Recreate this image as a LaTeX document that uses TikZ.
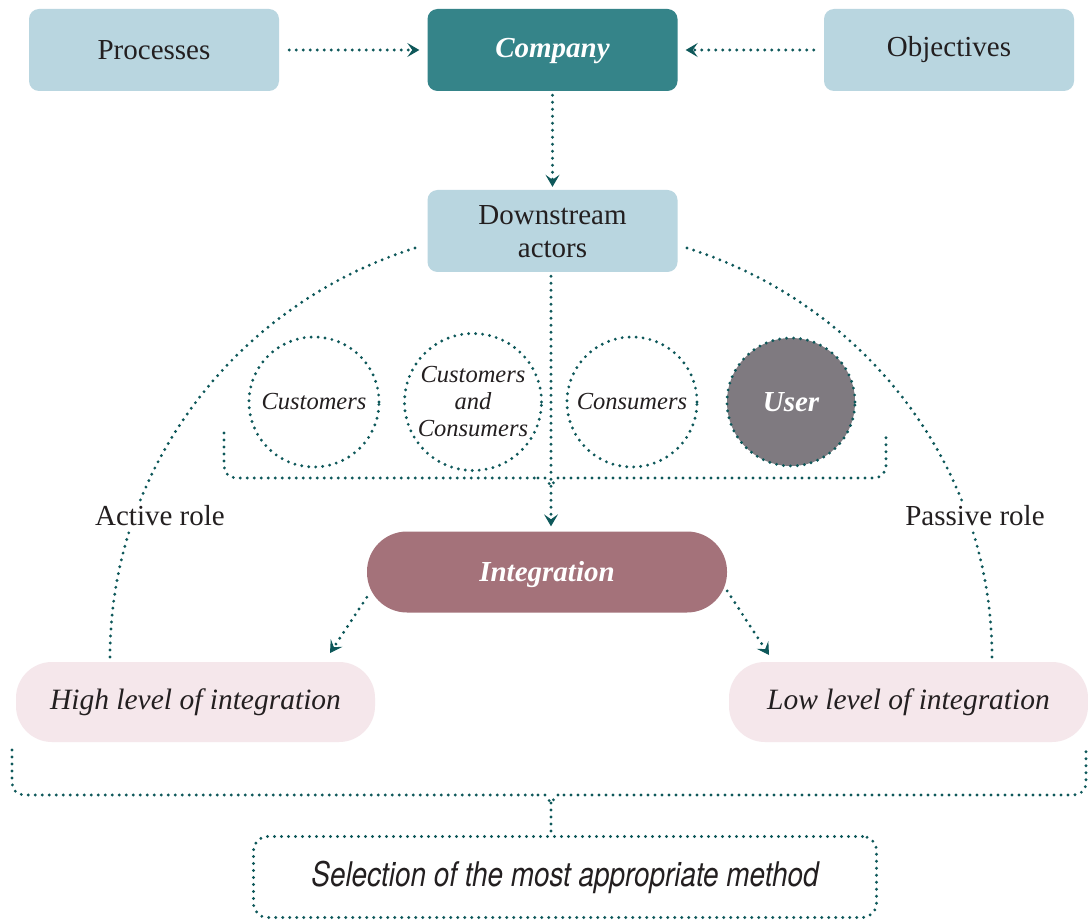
\documentclass[tikz,border=0pt]{standalone}
\usepackage{fontspec}
\setmainfont{Liberation Serif}
\newfontfamily\futfont[FakeStretch=0.82]{TeX Gyre Heros}
\usetikzlibrary{arrows.meta}
\definecolor{lblue}{HTML}{B9D6E0}
\definecolor{teal1}{HTML}{358489}
\definecolor{mauve}{HTML}{A4727A}
\definecolor{ugray}{HTML}{7F7A80}
\definecolor{pinkb}{HTML}{F5E7EB}
\definecolor{dotc}{HTML}{0E585A}
\definecolor{txt}{HTML}{231F20}
\begin{document}
\begin{tikzpicture}[x=1pt,y=-1pt,
  dotline/.style={draw=dotc, line width=3.2pt, line cap=round, dash pattern=on 0pt off 7pt},
  arr/.style={dotline, -{Stealth[length=12pt,width=14pt,inset=5pt,line width=1pt]}},
  bluebox/.style={fill=lblue, rounded corners=10pt, minimum width=250pt, minimum height=82pt, inner sep=0pt, text=txt, font=\fontsize{29}{33}\selectfont, align=center},
  tealbox/.style={fill=teal1, rounded corners=10pt, minimum width=250pt, minimum height=82pt, inner sep=0pt, text=white, font=\fontsize{29}{33}\selectfont\bfseries\itshape},
  circ/.style={circle, dotline, inner sep=0pt, text=txt, font=\fontsize{24.5}{27}\selectfont\itshape, align=center},
  pinkbox/.style={fill=pinkb, rounded corners=36pt, minimum width=359pt, minimum height=80pt, inner sep=0pt, text=txt, font=\fontsize{29.5}{33}\selectfont\itshape},
  rolelbl/.style={fill=white, inner sep=3pt, text=txt, font=\fontsize{29}{33}\selectfont}
]
\useasboundingbox[fill=white] (0,0) rectangle (1088,920);

% big arcs
\coordinate (arcL) at (110,657);
\coordinate (arcR) at (992,657);
\draw[dotline] (arcL) arc[start angle=180, end angle=107.3, x radius=441pt, y radius=430pt];
\draw[dotline] (arcR) arc[start angle=0, end angle=72.7, x radius=441pt, y radius=430pt];

% top row
\node[bluebox] (proc) at (154,50) {Processes};
\node[tealbox] (comp) at (552.5,50) {\raisebox{-1.5pt}[\height][\depth]{Company}};
\node[bluebox] (down) at (552.5,231) {\raisebox{-3pt}[\height][\depth]{\begin{tabular}{@{}c@{}}Downstream\\[0pt]actors\end{tabular}}};
\node[bluebox] (obj) at (949,50) {Objectives};

\draw[arr, shorten <=10pt, shorten >=8pt] (proc.east) -- (comp.west);
\draw[arr, shorten <=10pt, shorten >=8pt] (obj.west) -- (comp.east);
\draw[arr, shorten <=4pt, shorten >=3pt] (comp.south) -- (down.north);

% circles
\node[circ, minimum size=130pt] (c1) at (314,402) {Customers};
\node[circ, minimum size=137pt] (c2) at (473,402) {Customers\\and\\Consumers};
\node[circ, minimum size=130pt] (c3) at (632,402) {Consumers};
\node[circ, minimum size=128pt, fill=ugray, text=white, font=\fontsize{29}{33}\selectfont\bfseries\itshape] (c4) at (791,402) {User};

% top brace
\coordinate (b1L) at (224,433);
\coordinate (b1R) at (886,433);
\coordinate (b1M) at (551,486);
\draw[dotline, rounded corners=12pt] (b1L) -- (224,478) -- (538,478);
\draw[dotline] (538,478) -- (545,478) -- (b1M) -- (557,478) -- (564,478);
\draw[dotline, rounded corners=12pt] (564,478) -- (886,478) -- (b1R);

% integration
\node[fill=mauve, rounded corners=40pt, minimum width=360pt, minimum height=81pt, inner sep=0pt, text=white, font=\fontsize{29}{33}\selectfont\bfseries\itshape] (integ) at (547,572) {\raisebox{-3pt}[\height][\depth]{Integration}};
\draw[arr, shorten <=4pt, shorten >=5pt] (down.south -| b1M) -- (integ.north -| b1M);

% role labels
\node[rolelbl] (active) at (160,516) {Active role};
\node[rolelbl] (passive) at (975,516) {Passive role};

% level boxes
\node[pinkbox] (high) at (195.5,702) {High level of integration};
\node[pinkbox] (low) at (908.5,702) {Low level of integration};

\coordinate (hightip) at (330,653);
\coordinate (lowtip) at (769,655);
\draw[arr] (integ.188) -- (hightip);
\draw[arr] (integ.-6) -- (lowtip);

% bottom brace
\coordinate (b2L) at (12,750);
\coordinate (b2R) at (1086,750);
\coordinate (b2M) at (551,803);
\draw[dotline, rounded corners=12pt] (b2L) -- (12,795) -- (538,795);
\draw[dotline] (538,795) -- (545,795) -- (b2M) -- (557,795) -- (564,795);
\draw[dotline, rounded corners=12pt] (564,795) -- (1086,795) -- (b2R);

% selection box
\node[dotline, rounded corners=14pt, minimum width=623pt, minimum height=81pt, inner sep=0pt, text=txt, font=\fontsize{34}{38}\selectfont\futfont\itshape] (sel) at (565,877) {Selection of the most appropriate method};
\draw[dotline] (b2M) -- (b2M |- sel.north);
\end{tikzpicture}
\end{document}
